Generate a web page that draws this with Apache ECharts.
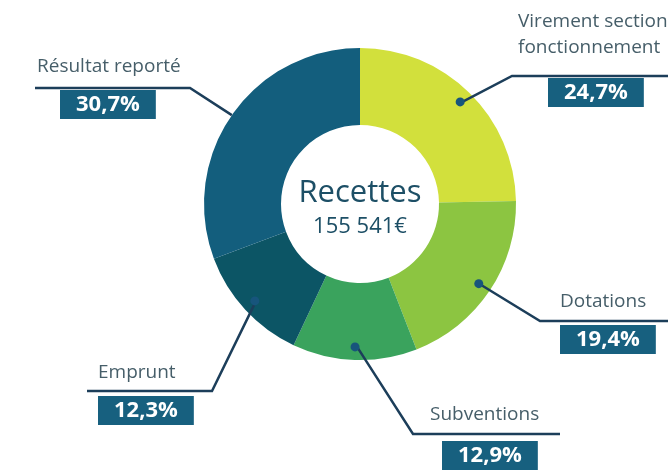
<!DOCTYPE html>
<html>
<head>
<meta charset="utf-8">
<script src="https://cdn.jsdelivr.net/npm/echarts@6/dist/echarts.min.js"></script>
<style>
  html, body { margin: 0; padding: 0; background: #fff; }
  #chart { width: 668px; height: 471px; }
</style>
</head>
<body>
<div id="chart"></div>
<script>
  var categories = ['Virement section de\nfonctionnement', 'Dotations', 'Subventions', 'Emprunt', 'Résultat reporté'];
  var shares = [24.7, 19.4, 12.9, 12.3, 30.7];
  var shareLabels = ['24,7%', '19,4%', '12,9%', '12,3%', '30,7%'];
  var centreTitle = 'Recettes';
  var centreTotal = '155 541€';

  var colors = ['#d2e03c', '#8cc541', '#3aa35d', '#0c5565', '#135e7d'];
  var FONT = '"Open Sans", "Noto Sans", sans-serif';
  var cx = 360, cy = 204, outerR = 156, innerR = 79, dotR = 140;

  // where each label block sits: left x, top y, box shift, gap under name, rule y, bend x, rule end x
  var spots = [
    { x: 518, y: 9, box: 30, gap: 19, ruleY: 76, bendX: 512, endX: 680, dot: true },
    { x: 560, y: 289, box: 0, gap: 12, ruleY: 321, bendX: 540, endX: 680, dot: true },
    { x: 430, y: 402, box: 12, gap: 15, ruleY: 434, bendX: 413, endX: 560, dot: true },
    { x: 98, y: 360, box: 0, gap: 12, ruleY: 391, bendX: 212, endX: 87, dot: true },
    { x: 37, y: 54, box: 23, gap: 12, ruleY: 88, bendX: 190, endX: 35, dot: false }
  ];

  var rich = {
    n: { fontSize: 19, lineHeight: 26, color: '#465e69', fontFamily: FONT },
    p: {
      fontSize: 22, fontWeight: 'bold', color: '#fff', fontFamily: FONT,
      backgroundColor: '#17607f', padding: [4, 16, 3, 16], lineHeight: 25
    }
  };
  spots.forEach(function (s, i) {
    rich['s' + i] = { width: s.box, fontSize: 10, lineHeight: 25 };
    rich['g' + i] = { fontSize: 4, lineHeight: s.gap };
  });

  var data = categories.map(function (name, i) {
    return { name: name, value: shares[i], itemStyle: { color: colors[i] } };
  });
  var ghostData = categories.map(function (name, i) {
    return { name: name, value: shares[i] };
  });

  var chart = echarts.init(document.getElementById('chart'));
  chart.setOption({
    backgroundColor: '#fff',
    animation: false,
    graphic: [
      {
        type: 'text', x: cx, y: 193,
        style: { text: centreTitle, align: 'center', verticalAlign: 'middle', fontSize: 31, fontFamily: FONT, fill: '#1d4f66' }
      },
      {
        type: 'text', x: cx, y: 227,
        style: { text: centreTotal, align: 'center', verticalAlign: 'middle', fontSize: 22, fontFamily: FONT, fill: '#1d4f66' }
      }
    ],
    series: [
      {
        name: 'Recettes',
        type: 'pie',
        center: [cx, cy],
        radius: [innerR, outerR],
        startAngle: 90,
        clockwise: true,
        silent: true,
        data: data,
        label: { show: false },
        labelLine: { show: false }
      },
      {
        // transparent copy of the ring that carries the labels and leader lines above it
        name: 'labels',
        type: 'pie',
        center: [cx, cy],
        radius: [124, outerR],
        startAngle: 90,
        clockwise: true,
        silent: true,
        z: 5,
        data: ghostData,
        itemStyle: { color: 'rgba(0,0,0,0)' },
        label: {
          show: true,
          position: 'outer',
          rich: rich,
          formatter: function (p) {
            var i = p.dataIndex;
            var s = spots[i];
            return '{n|' + p.name + '}\n{g' + i + '| }\n' +
              (s.box ? '{s' + i + '| }' : '') + '{p|' + shareLabels[i] + '}';
          }
        },
        labelLine: {
          show: true,
          length: 10,
          length2: 10,
          lineStyle: { color: '#1c3e5a', width: 2.5 }
        },
        labelLayout: function (params) {
          var s = spots[params.dataIndex];
          var p0 = params.labelLinePoints[0];
          var k = s.dot ? dotR / outerR : 1;
          var start = [cx + (p0[0] - cx) * k, cy + (p0[1] - cy) * k];
          return {
            x: s.x,
            y: s.y,
            align: 'left',
            verticalAlign: 'top',
            labelLinePoints: [start, [s.bendX, s.ruleY], [s.endX, s.ruleY]]
          };
        }
      },
      {
        name: 'points',
        type: 'pie',
        center: [cx, cy],
        radius: [124, outerR],
        startAngle: 90,
        clockwise: true,
        silent: true,
        z: 6,
        data: ghostData,
        itemStyle: { color: 'rgba(0,0,0,0)' },
        label: {
          show: true,
          position: 'inside',
          formatter: function (p) { return spots[p.dataIndex].dot ? '{d|}' : ''; },
          rich: { d: { width: 9, height: 9, borderRadius: 5, backgroundColor: '#17557c' } }
        },
        labelLine: { show: false }
      }
    ]
  });
</script>
</body>
</html>
